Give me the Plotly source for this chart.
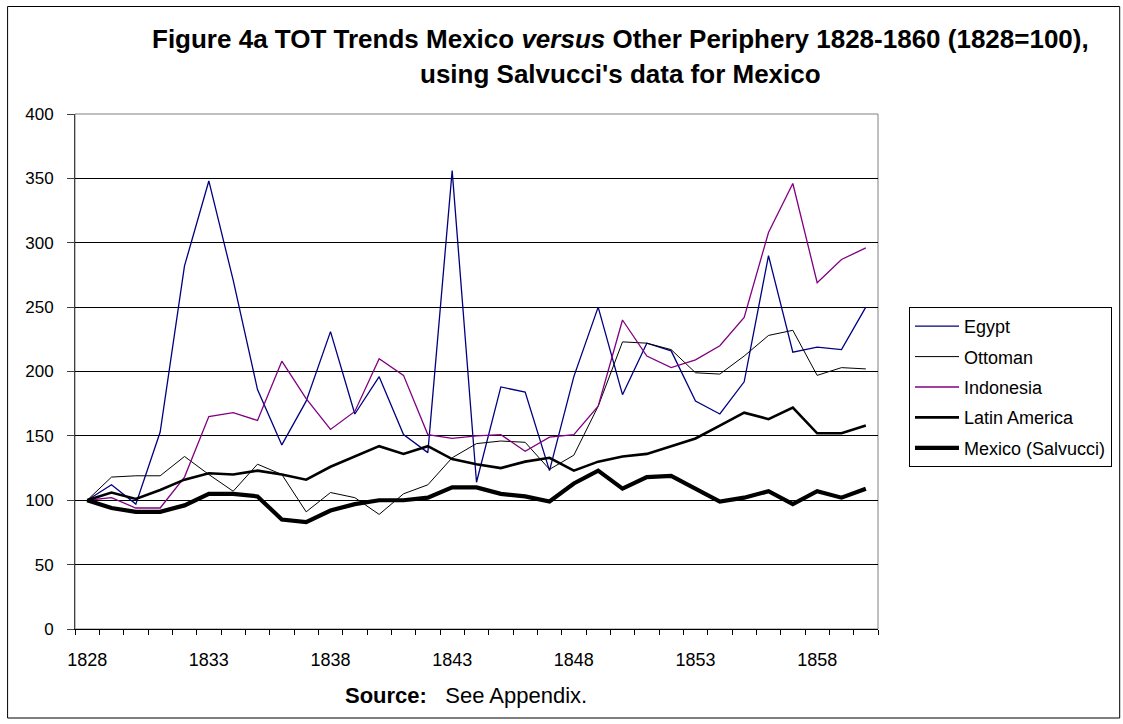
import plotly.graph_objects as go

years = list(range(1828, 1861))
tick_years = [1828, 1833, 1838, 1843, 1848, 1853, 1858]

egypt = [100, 112, 97, 153, 282, 348, 271, 186, 143, 177, 231, 167, 196, 151, 137, 356, 114,
         188, 184, 123, 196, 250, 182, 222, 216, 177, 167, 192, 290, 215, 219, 217, 250]
ottoman = [100, 118, 119, 119, 134, 120, 107, 128, 120, 91, 106, 102, 89, 105, 112, 133, 144,
           146, 145, 124, 135, 173, 223, 222, 217, 199, 198, 212, 228, 232, 197, 203, 202]
indonesia = [100, 102, 94, 94, 118, 165, 168, 162, 208, 179, 155, 169, 210, 197, 151, 148, 150,
             151, 138, 149, 151, 173, 240, 212, 203, 209, 220, 242, 308, 346, 269, 287, 296]
latin_america = [100, 106, 101, 108, 116, 121, 120, 123, 120, 116, 126, 134, 142, 136, 142, 132, 128,
                 125, 130, 133, 123, 130, 134, 136, 142, 148, 158, 168, 163, 172, 152, 152, 158]
mexico = [100, 94, 91, 91, 96, 105, 105, 103, 85, 83, 92, 97, 100, 100, 102, 110, 110,
          105, 103, 99, 113, 123, 109, 118, 119, 109, 99, 102, 107, 97, 107, 102, 109]

FONT = "Arial, Liberation Sans, sans-serif"

W, H = 1123, 724
# plot area in pixels
L, R, T, B = 75, 879, 114, 629


def px(x):
    return (x - L) / (R - L)


def py(y):
    return (B - y) / (B - T)


fig = go.Figure()

series = [
    ("Egypt", egypt, "#000080", 1.3),
    ("Ottoman", ottoman, "#000000", 1.0),
    ("Indonesia", indonesia, "#800080", 1.3),
    ("Latin America", latin_america, "#000000", 2.6),
    ("Mexico (Salvucci)", mexico, "#000000", 4.2),
]
for name, vals, color, width in series:
    fig.add_trace(
        go.Scatter(
            x=years,
            y=vals,
            mode="lines",
            name=name,
            legendgroup=name,
            line=dict(color=color, width=width),
        )
    )

fig.update_layout(
    width=W,
    height=H,
    margin=dict(l=L, r=W - R, t=T, b=H - B, pad=0),
    paper_bgcolor="white",
    plot_bgcolor="white",
    font=dict(family=FONT, color="black", size=17),
    showlegend=True,
    legend=dict(
        x=px(909),
        y=py(307),
        xanchor="left",
        yanchor="top",
        bordercolor="black",
        borderwidth=1,
        bgcolor="white",
        font=dict(family=FONT, size=18, color="black"),
        tracegroupgap=4,
        itemwidth=44,
    ),
    xaxis=dict(
        range=[1827.5, 1860.5],
        tickvals=tick_years,
        ticks="",
        ticklabelstandoff=14,
        showgrid=False,
        zeroline=False,
        showline=True,
        linecolor="black",
        linewidth=1,
        tickfont=dict(size=18),
        minor=dict(
            tickvals=[y - 0.5 for y in years] + [years[-1] + 0.5],
            ticks="outside",
            ticklen=5,
            tickcolor="black",
            showgrid=False,
        ),
    ),
    yaxis=dict(
        range=[0, 400],
        dtick=50,
        ticks="outside",
        ticklen=7,
        tickcolor="#404040",
        ticklabelstandoff=10,
        showgrid=True,
        gridcolor="black",
        gridwidth=1,
        zeroline=False,
        showline=True,
        linecolor="#404040",
        linewidth=1,
        tickfont=dict(size=17),
    ),
)

# plot area border (right / top)
fig.add_shape(type="rect", xref="paper", yref="paper", x0=0, x1=1, y0=0, y1=1,
              line=dict(color="#808080", width=1), layer="below")

# outer frame
fig.add_shape(type="rect", xref="paper", yref="paper",
              x0=px(7.5), x1=px(1121), y0=py(718), y1=py(6.5),
              line=dict(color="black", width=1))

title_lines = [
    ("<b>Figure 4a TOT Trends Mexico <i>versus</i> Other Periphery 1828-1860 (1828=100),</b>", 39),
    ("<b>using Salvucci's data for Mexico</b>", 74),
]
for text, yc in title_lines:
    fig.add_annotation(
        xref="paper", yref="paper", x=px(621), y=py(yc),
        text=text, showarrow=False, xanchor="center", yanchor="middle",
        font=dict(family=FONT, size=26, color="black"),
    )

fig.add_annotation(
    xref="paper", yref="paper", x=px(466), y=py(695),
    text="<b>Source:</b>   See Appendix.",
    showarrow=False, xanchor="center", yanchor="middle",
    font=dict(family=FONT, size=22, color="black"),
)

# drop the page's default body margin so the figure fills the window exactly
fig.write_html(
    "out.html",
    config={"displayModeBar": False},
    post_script="document.body.style.margin = '0';",
)
